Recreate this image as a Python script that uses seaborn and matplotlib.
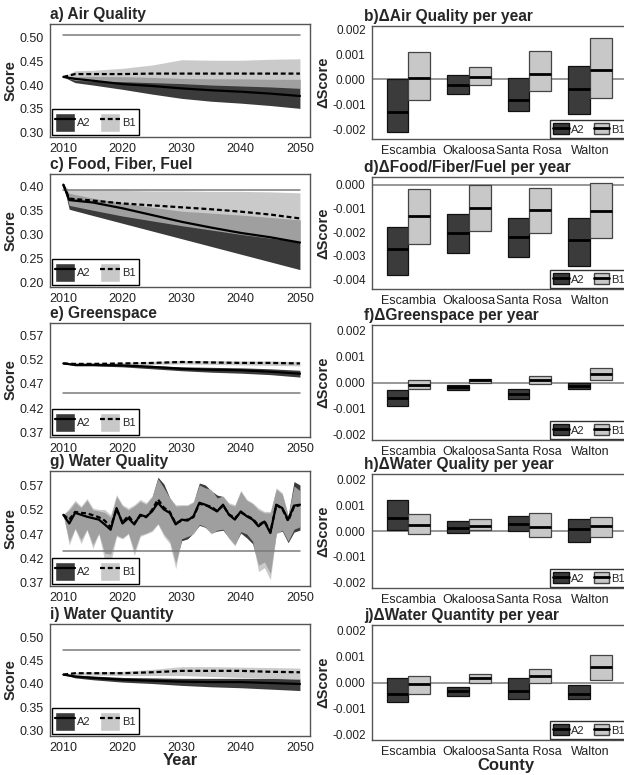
import matplotlib
matplotlib.use("Agg")
import matplotlib.pyplot as plt
from matplotlib.patches import Patch
from matplotlib.lines import Line2D
import seaborn as sns

# --- datos: tendencias (izquierda) ---
yrs = [2010, 2012, 2015, 2020, 2025, 2030, 2035, 2040, 2045, 2050]
yrs_c = [2010, 2011, 2015, 2020, 2025, 2030, 2035, 2040, 2045, 2050]

a_A2_mean = [0.417, 0.413, 0.409, 0.402, 0.398, 0.393, 0.389, 0.386, 0.382, 0.377]
a_A2_lo = [0.417, 0.405, 0.400, 0.391, 0.381, 0.372, 0.366, 0.362, 0.357, 0.351]
a_A2_hi = [0.417, 0.418, 0.418, 0.4175, 0.416, 0.414, 0.413, 0.413, 0.412, 0.412]
a_B1_mean = [0.417, 0.423, 0.423, 0.423, 0.424, 0.424, 0.424, 0.424, 0.424, 0.424]
a_B1_lo = [0.417, 0.410, 0.408, 0.407, 0.405, 0.403, 0.400, 0.398, 0.396, 0.393]
a_B1_hi = [0.417, 0.430, 0.431, 0.435, 0.442, 0.453, 0.452, 0.452, 0.454, 0.455]

c_A2_mean = [0.403, 0.371, 0.366, 0.354, 0.340, 0.326, 0.314, 0.303, 0.294, 0.283]
c_A2_lo = [0.403, 0.352, 0.339, 0.323, 0.307, 0.291, 0.275, 0.259, 0.243, 0.227]
c_A2_hi = [0.403, 0.385, 0.375, 0.365, 0.356, 0.348, 0.344, 0.340, 0.335, 0.330]
c_B1_mean = [0.403, 0.374, 0.370, 0.364, 0.360, 0.356, 0.352, 0.347, 0.341, 0.333]
c_B1_lo = [0.403, 0.360, 0.350, 0.338, 0.328, 0.318, 0.309, 0.300, 0.292, 0.285]
c_B1_hi = [0.403, 0.392, 0.392, 0.391, 0.390, 0.390, 0.389, 0.389, 0.388, 0.386]

e_A2_mean = [0.512, 0.509, 0.509, 0.508, 0.505, 0.501, 0.499, 0.498, 0.495, 0.491]
e_A2_lo = [0.512, 0.507, 0.507, 0.505, 0.501, 0.497, 0.494, 0.492, 0.489, 0.484]
e_A2_hi = [0.512, 0.511, 0.511, 0.510, 0.508, 0.505, 0.504, 0.503, 0.501, 0.498]
e_B1_mean = [0.512, 0.511, 0.511, 0.512, 0.513, 0.515, 0.514, 0.513, 0.513, 0.512]
e_B1_lo = [0.512, 0.509, 0.509, 0.510, 0.510, 0.511, 0.510, 0.509, 0.508, 0.507]
e_B1_hi = [0.512, 0.513, 0.513, 0.514, 0.516, 0.518, 0.518, 0.517, 0.517, 0.516]

i_A2_mean = [0.420, 0.416, 0.413, 0.409, 0.407, 0.405, 0.404, 0.404, 0.402, 0.400]
i_A2_lo = [0.420, 0.413, 0.409, 0.404, 0.401, 0.397, 0.394, 0.392, 0.389, 0.386]
i_A2_hi = [0.420, 0.419, 0.417, 0.414, 0.413, 0.412, 0.412, 0.412, 0.412, 0.411]
i_B1_mean = [0.420, 0.423, 0.423, 0.423, 0.425, 0.428, 0.428, 0.428, 0.426, 0.425]
i_B1_lo = [0.420, 0.419, 0.419, 0.418, 0.418, 0.418, 0.416, 0.414, 0.412, 0.410]
i_B1_hi = [0.420, 0.425, 0.426, 0.427, 0.431, 0.437, 0.437, 0.436, 0.435, 0.434]

# calidad del agua: serie anual 2010-2050
yrs_g = list(range(2010, 2051))
g_A2_mean = [0.510, 0.492, 0.514, 0.510, 0.506, 0.503, 0.500, 0.490, 0.479, 0.524,
             0.492, 0.503, 0.490, 0.510, 0.506, 0.517, 0.535, 0.521, 0.514, 0.490,
             0.500, 0.498, 0.507, 0.535, 0.531, 0.524, 0.517, 0.531, 0.510, 0.500,
             0.517, 0.507, 0.500, 0.486, 0.496, 0.472, 0.531, 0.524, 0.500, 0.529, 0.531]
g_B1_mean = [0.510, 0.500, 0.516, 0.514, 0.513, 0.509, 0.505, 0.498, 0.484, 0.522,
             0.494, 0.508, 0.492, 0.508, 0.505, 0.520, 0.542, 0.525, 0.516, 0.492,
             0.498, 0.500, 0.505, 0.533, 0.530, 0.527, 0.518, 0.529, 0.511, 0.503,
             0.515, 0.508, 0.502, 0.488, 0.497, 0.474, 0.530, 0.523, 0.497, 0.527, 0.530]
g_B1_hi = [0.510, 0.524, 0.540, 0.528, 0.544, 0.524, 0.521, 0.521, 0.510, 0.552,
           0.531, 0.524, 0.531, 0.542, 0.535, 0.549, 0.585, 0.566, 0.545, 0.531,
           0.531, 0.531, 0.538, 0.572, 0.566, 0.563, 0.545, 0.549, 0.535, 0.531,
           0.561, 0.542, 0.535, 0.524, 0.517, 0.517, 0.566, 0.556, 0.510, 0.570, 0.560]
g_B1_lo = [0.510, 0.447, 0.480, 0.450, 0.478, 0.440, 0.470, 0.415, 0.410, 0.465,
           0.460, 0.470, 0.425, 0.465, 0.470, 0.475, 0.490, 0.465, 0.450, 0.398,
           0.460, 0.465, 0.470, 0.490, 0.485, 0.470, 0.478, 0.480, 0.460, 0.445,
           0.475, 0.470, 0.455, 0.392, 0.400, 0.375, 0.470, 0.478, 0.455, 0.480, 0.485]
g_A2_hi = [0.510, 0.520, 0.536, 0.525, 0.540, 0.520, 0.518, 0.515, 0.505, 0.548,
           0.528, 0.520, 0.528, 0.538, 0.532, 0.547, 0.588, 0.574, 0.545, 0.528,
           0.529, 0.529, 0.536, 0.576, 0.572, 0.560, 0.551, 0.548, 0.532, 0.528,
           0.558, 0.540, 0.533, 0.520, 0.514, 0.514, 0.563, 0.553, 0.508, 0.579, 0.572]
g_A2_lo = [0.510, 0.455, 0.482, 0.458, 0.480, 0.448, 0.472, 0.430, 0.428, 0.468,
           0.462, 0.472, 0.435, 0.468, 0.472, 0.478, 0.492, 0.470, 0.455, 0.410,
           0.456, 0.460, 0.472, 0.488, 0.484, 0.472, 0.476, 0.478, 0.462, 0.448,
           0.472, 0.462, 0.450, 0.405, 0.412, 0.388, 0.472, 0.476, 0.452, 0.474, 0.478]

# --- datos: cambio anual por condado (derecha) ---
counties = ["Escambia", "Okaloosa", "Santa Rosa", "Walton"]

b_A2 = {"lo": [-0.0021, -0.00059, -0.00127, -0.0014], "mid": [-0.00133, -0.00024, -0.00083, -0.0004],
        "hi": [0.0, 0.00015, 0.00004, 0.00053]}
b_B1 = {"lo": [-0.00084, -0.00024, -0.00048, -0.00075], "mid": [0.00003, 0.00008, 0.00019, 0.00038],
        "hi": [0.00109, 0.00048, 0.00112, 0.00163]}
d_A2 = {"lo": [-0.00379, -0.0029, -0.00307, -0.00341], "mid": [-0.00272, -0.00204, -0.0022, -0.00235],
        "hi": [-0.00177, -0.00124, -0.00139, -0.00139]}
d_B1 = {"lo": [-0.00251, -0.00195, -0.00205, -0.00227], "mid": [-0.00132, -0.00099, -0.00109, -0.00111],
        "hi": [-0.00017, 0.0, -0.00013, 0.00007]}
f_A2 = {"lo": [-0.00088, -0.00027, -0.00064, -0.00025], "mid": [-0.00059, -0.00019, -0.00045, -0.00013],
        "hi": [-0.00028, -0.00011, -0.00024, 0.0]}
f_B1 = {"lo": [-0.00025, 0.0, -0.00005, 0.00008], "mid": [-0.0001, 0.00008, 0.00009, 0.00033],
        "hi": [0.00009, 0.00015, 0.00023, 0.00055]}
h_A2 = {"lo": [0.00004, -0.00008, 0.0, -0.00041], "mid": [0.00049, 0.00013, 0.00027, 0.00008],
        "hi": [0.0012, 0.0004, 0.00058, 0.00046]}
h_B1 = {"lo": [-0.00013, 0.00003, -0.00022, -0.00023], "mid": [0.00022, 0.00019, 0.00014, 0.00019],
        "hi": [0.00064, 0.00047, 0.00069, 0.00054]}
j_A2 = {"lo": [-0.00074, -0.00053, -0.00062, -0.00062], "mid": [-0.00043, -0.00033, -0.00033, -0.00043],
        "hi": [0.00019, -0.00018, 0.00016, -0.00011]}
j_B1 = {"lo": [-0.00043, 0.0, -0.00003, 0.00008], "mid": [-0.00005, 0.00018, 0.00025, 0.00061],
        "hi": [0.00023, 0.00033, 0.0005, 0.00107]}

DARK = "#3b3b3b"
LIGHT = "#bcbcbc"
W, H = 624, 775

sns.set_theme(style="white")
plt.rcParams["font.family"] = ["Liberation Sans", "DejaVu Sans"]
plt.rcParams["axes.unicode_minus"] = False

fig = plt.figure(figsize=(W / 100, H / 100), dpi=100)


def px_axes(x0, top, x1, bottom):
    return fig.add_axes([x0 / W, 1 - bottom / H, (x1 - x0) / W, (bottom - top) / H])


def style_axes(ax, ysize=9):
    for s in ax.spines.values():
        s.set_color("#555555")
        s.set_linewidth(1.0)
    ax.tick_params(length=3, width=0.8, color="#555555", labelsize=9, labelcolor="#222222", pad=1.5)
    ax.tick_params(axis="y", labelsize=ysize)


def trend_panel(ax, years, A2m, A2lo, A2hi, B1m, B1lo, B1hi, base, ylim, yticks, title, xlabel=False):
    ax.fill_between(years, A2lo, A2hi, color=DARK, lw=0)
    ax.fill_between(years, B1lo, B1hi, color=LIGHT, alpha=0.78, lw=0)
    ax.plot([years[0], years[-1]], [base, base], color="#7a7a7a", lw=1.1)
    sns.lineplot(x=years, y=A2m, ax=ax, color="black", lw=1.6)
    sns.lineplot(x=years, y=B1m, ax=ax, color="black", lw=1.6, linestyle=(0, (2.2, 1.3)))
    ax.set_xlim(2007.75, 2051.7)
    ax.set_ylim(*ylim)
    ax.set_xticks([2010, 2020, 2030, 2040, 2050])
    ax.set_yticks(yticks)
    ax.set_yticklabels([f"{t:.2f}" for t in yticks])
    ax.set_ylabel("Score", fontsize=10.5, fontweight="bold", labelpad=1)
    ax.set_xlabel("Year" if xlabel else "", fontsize=12, fontweight="bold", labelpad=-1)
    ax.text(0.0, 1.015, title, transform=ax.transAxes, fontsize=11.2, fontweight="bold", va="bottom")
    style_axes(ax)
    handles = [(Patch(facecolor=DARK), Line2D([], [], color="black", lw=1.6)),
               (Patch(facecolor="#c8c8c8"), Line2D([], [], color="black", lw=1.6, ls=(0, (2.2, 1.3))))]
    leg = ax.legend(handles, ["A2", "B1"], loc="lower left", ncol=2, fontsize=8,
                    handlelength=1.8, handleheight=2.3, handletextpad=0.15, columnspacing=0.9,
                    borderaxespad=0.15, borderpad=0.3, frameon=True, fancybox=False, framealpha=1)
    leg.get_frame().set_edgecolor("black")
    leg.get_frame().set_linewidth(1.0)


def delta_panel(ax, A2, B1, ylim, yticks, title, xlabel=False):
    w = 0.36
    pos = list(range(len(counties)))
    ax.axhline(0, color="#7a7a7a", lw=1.1, zorder=1)
    for vals, off, fc, ec in [(A2, -w, DARK, "#111111"), (B1, 0.0, "#c8c8c8", "#444444")]:
        xs = [p + off for p in pos]
        hts = [h - l for h, l in zip(vals["hi"], vals["lo"])]
        ax.bar(xs, hts, width=w, bottom=vals["lo"], align="edge", color=fc, edgecolor=ec, lw=0.9, zorder=2)
        ax.hlines(vals["mid"], xs, [x + w for x in xs], color="black", lw=2, zorder=3)
    ax.set_xlim(-0.6, 3.83)
    ax.set_ylim(*ylim)
    ax.set_xticks(pos)
    ax.set_xticklabels(counties)
    ax.set_yticks(yticks)
    ax.set_yticklabels([f"{t:.3f}" for t in yticks])
    ax.set_ylabel("ΔScore", fontsize=10.5, fontweight="bold", labelpad=1)
    ax.set_xlabel("County" if xlabel else "", fontsize=12, fontweight="bold", labelpad=0)
    ax.text(-0.03, 1.015, title, transform=ax.transAxes, fontsize=11.2, fontweight="bold", va="bottom")
    style_axes(ax, ysize=8.5)
    handles = [(Patch(facecolor=DARK, edgecolor="#111111"), Line2D([], [], color="black", lw=2)),
               (Patch(facecolor="#c8c8c8", edgecolor="#444444"), Line2D([], [], color="black", lw=2))]
    leg = ax.legend(handles, ["A2", "B1"], loc="lower left", bbox_to_anchor=(0.66, 0.0), ncol=2, fontsize=8,
                    handlelength=1.4, handleheight=1.1, handletextpad=0.2, columnspacing=0.8,
                    borderaxespad=0.1, borderpad=0.3, frameon=True, fancybox=False, framealpha=1)
    leg.get_frame().set_edgecolor("#333333")
    leg.get_frame().set_linewidth(1.0)


tops_l = [24, 174, 323, 471, 624]
bots_l = [137, 287, 437, 586, 736]
tops_r = [26, 177, 325, 474, 625]
bots_r = [139, 289, 440, 588, 740]

axs_l = [px_axes(50, t, 310, b) for t, b in zip(tops_l, bots_l)]
axs_r = [px_axes(372, t, 640, b) for t, b in zip(tops_r, bots_r)]

t30 = [0.30, 0.35, 0.40, 0.45, 0.50]
t20 = [0.20, 0.25, 0.30, 0.35, 0.40]
t37 = [0.37, 0.42, 0.47, 0.52, 0.57]

trend_panel(axs_l[0], yrs, a_A2_mean, a_A2_lo, a_A2_hi, a_B1_mean, a_B1_lo, a_B1_hi,
            0.504, (0.291, 0.528), t30, "a) Air Quality")
trend_panel(axs_l[1], yrs_c, c_A2_mean, c_A2_lo, c_A2_hi, c_B1_mean, c_B1_lo, c_B1_hi,
            0.392, (0.191, 0.425), t20, "c) Food, Fiber, Fuel")
trend_panel(axs_l[2], yrs, e_A2_mean, e_A2_lo, e_A2_hi, e_B1_mean, e_B1_lo, e_B1_hi,
            0.451, (0.361, 0.595), t37, "e) Greenspace")
trend_panel(axs_l[3], yrs_g, g_A2_mean, g_A2_lo, g_A2_hi, g_B1_mean, g_B1_lo, g_B1_hi,
            0.434, (0.362, 0.601), t37, "g) Water Quality")
trend_panel(axs_l[4], yrs, i_A2_mean, i_A2_lo, i_A2_hi, i_B1_mean, i_B1_lo, i_B1_hi,
            0.472, (0.289, 0.528), t30, "i) Water Quantity", xlabel=True)

dt2 = [-0.002, -0.001, 0.0, 0.001, 0.002]
dt4 = [-0.004, -0.003, -0.002, -0.001, 0.0]
delta_panel(axs_r[0], b_A2, b_B1, (-0.0024, 0.00213), dt2, "b)ΔAir Quality per year")
delta_panel(axs_r[1], d_A2, d_B1, (-0.0044, 0.00032), dt4, "d)ΔFood/Fiber/Fuel per year")
delta_panel(axs_r[2], f_A2, f_B1, (-0.0022, 0.0022), dt2, "f)ΔGreenspace per year")
delta_panel(axs_r[3], h_A2, h_B1, (-0.0022, 0.0022), dt2, "h)ΔWater Quality per year")
delta_panel(axs_r[4], j_A2, j_B1, (-0.0022, 0.0022), dt2, "j)ΔWater Quantity per year", xlabel=True)

fig.savefig("out.png", dpi=100)
